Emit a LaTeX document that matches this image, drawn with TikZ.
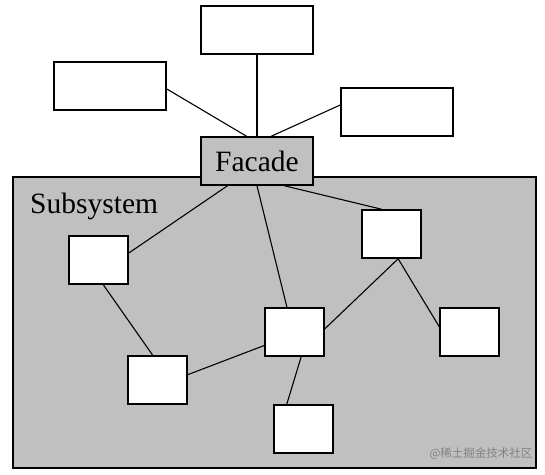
\documentclass[tikz,border=0pt]{standalone}
\usepackage{fontspec}
\setmainfont{Liberation Serif}
\newfontfamily\cjk{Noto Sans CJK SC}
\usetikzlibrary{positioning}
\definecolor{subgray}{RGB}{192,192,192}
\definecolor{markgray}{RGB}{130,130,130}
\tikzset{
  bigbox/.style={draw, rectangle, fill=white, line width=1.6pt, minimum width=112pt, minimum height=48pt, inner sep=0pt},
  smallbox/.style={draw, rectangle, fill=white, line width=1.6pt, minimum width=59pt, minimum height=48pt, inner sep=0pt},
  facadebox/.style={bigbox, fill=subgray, font=\fontsize{29.5}{34}\selectfont},
  link/.style={line width=1.1pt},
}
\begin{document}
\begin{tikzpicture}[x=1pt, y=-1pt]
\useasboundingbox (0,0) rectangle (545,474);

% subsystem area
\node[draw, line width=1.8pt, fill=subgray, rectangle, minimum width=523pt, minimum height=291pt, inner sep=0pt] (sub) at (274.5,322.5) {};
\node[anchor=base west, inner sep=0pt, font=\fontsize{29.5}{34}\selectfont] (sublabel) at (30,213) {Subsystem};

% clients
\node[bigbox] (top) at (257,30) {};
\node[bigbox] (left) at (110,86) {};
\node[bigbox] (right) at (397,112) {};
\node[facadebox] (facade) at (257,161) {Facade};

% subsystem classes
\node[smallbox] (ca) at (98.5,260) {};
\node[smallbox] (cb) at (391.5,234) {};
\node[smallbox] (cc) at (294.5,332) {};
\node[smallbox] (cd) at (469.5,332) {};
\node[smallbox] (ce) at (157.5,380) {};
\node[smallbox] (cf) at (303.5,429) {};

\node[font=\cjk\fontsize{11.5}{13}\selectfont, text=markgray, inner sep=0pt] (mark) at (481,454) {@稀土掘金技术社区};

\draw[link] (facade) -- (top);
\draw[link] (left.-3) -- (facade.113);
\draw[link] (right.173) -- (facade.60);
\draw[link] (facade.220) -- (ca.13);
\draw[link] (facade.south) -- (cc.107);
\draw[link] (facade.-42) -- (cb.112);
\draw[link] (cb.-75) -- (cc.6);
\draw[link] (cb.-75) -- (cd.170);
\draw[link] (ca.-79) -- (ce.101);
\draw[link] (ce.10) -- (cc.204);
\draw[link] (cc.-75) -- (cf.124);

\end{tikzpicture}
\end{document}
